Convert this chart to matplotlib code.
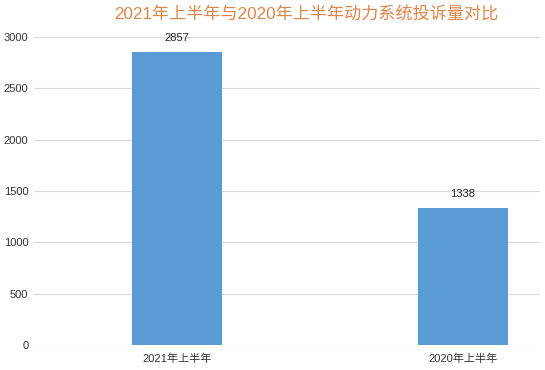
import matplotlib.pyplot as plt

plt.rcParams['font.family'] = ['Liberation Sans', 'Noto Sans CJK SC', 'DejaVu Sans']

categories = ['2021年上半年', '2020年上半年']
values = [2857, 1338]
title = '2021年上半年与2020年上半年动力系统投诉量对比'

fig = plt.figure(figsize=(5.45, 3.7), dpi=100)
ax = fig.add_axes([34 / 545, 25 / 370, 506 / 545, 308 / 370])

x = range(len(categories))
bars = ax.bar(x, values, width=0.315, color='#5B9BD5', zorder=3)
for b, v in zip(bars, values):
    ax.annotate(str(v), (b.get_x() + b.get_width() / 2, v), xytext=(0, 6),
                textcoords='offset points', ha='center', va='bottom',
                fontsize=8, color='#222222')

ax.set_xlim(-0.5, 1.27)
ax.set_ylim(0, 3000)
ax.set_yticks(range(0, 3001, 500))
ax.set_xticks(list(x))
ax.set_xticklabels(categories)
ax.grid(axis='y', color='#D9D9D9', linewidth=0.8, zorder=0)
for s in ax.spines.values():
    s.set_visible(False)
ax.tick_params(length=0, labelsize=8, colors='#333333')
ax.tick_params(axis='y', pad=4)
ax.tick_params(axis='x', pad=6)

fig.text(306 / 545, 356 / 370, title, ha='center', va='center',
         fontsize=12.3, color='#E0854A', fontweight='medium')

fig.savefig('out.png', dpi=100)
